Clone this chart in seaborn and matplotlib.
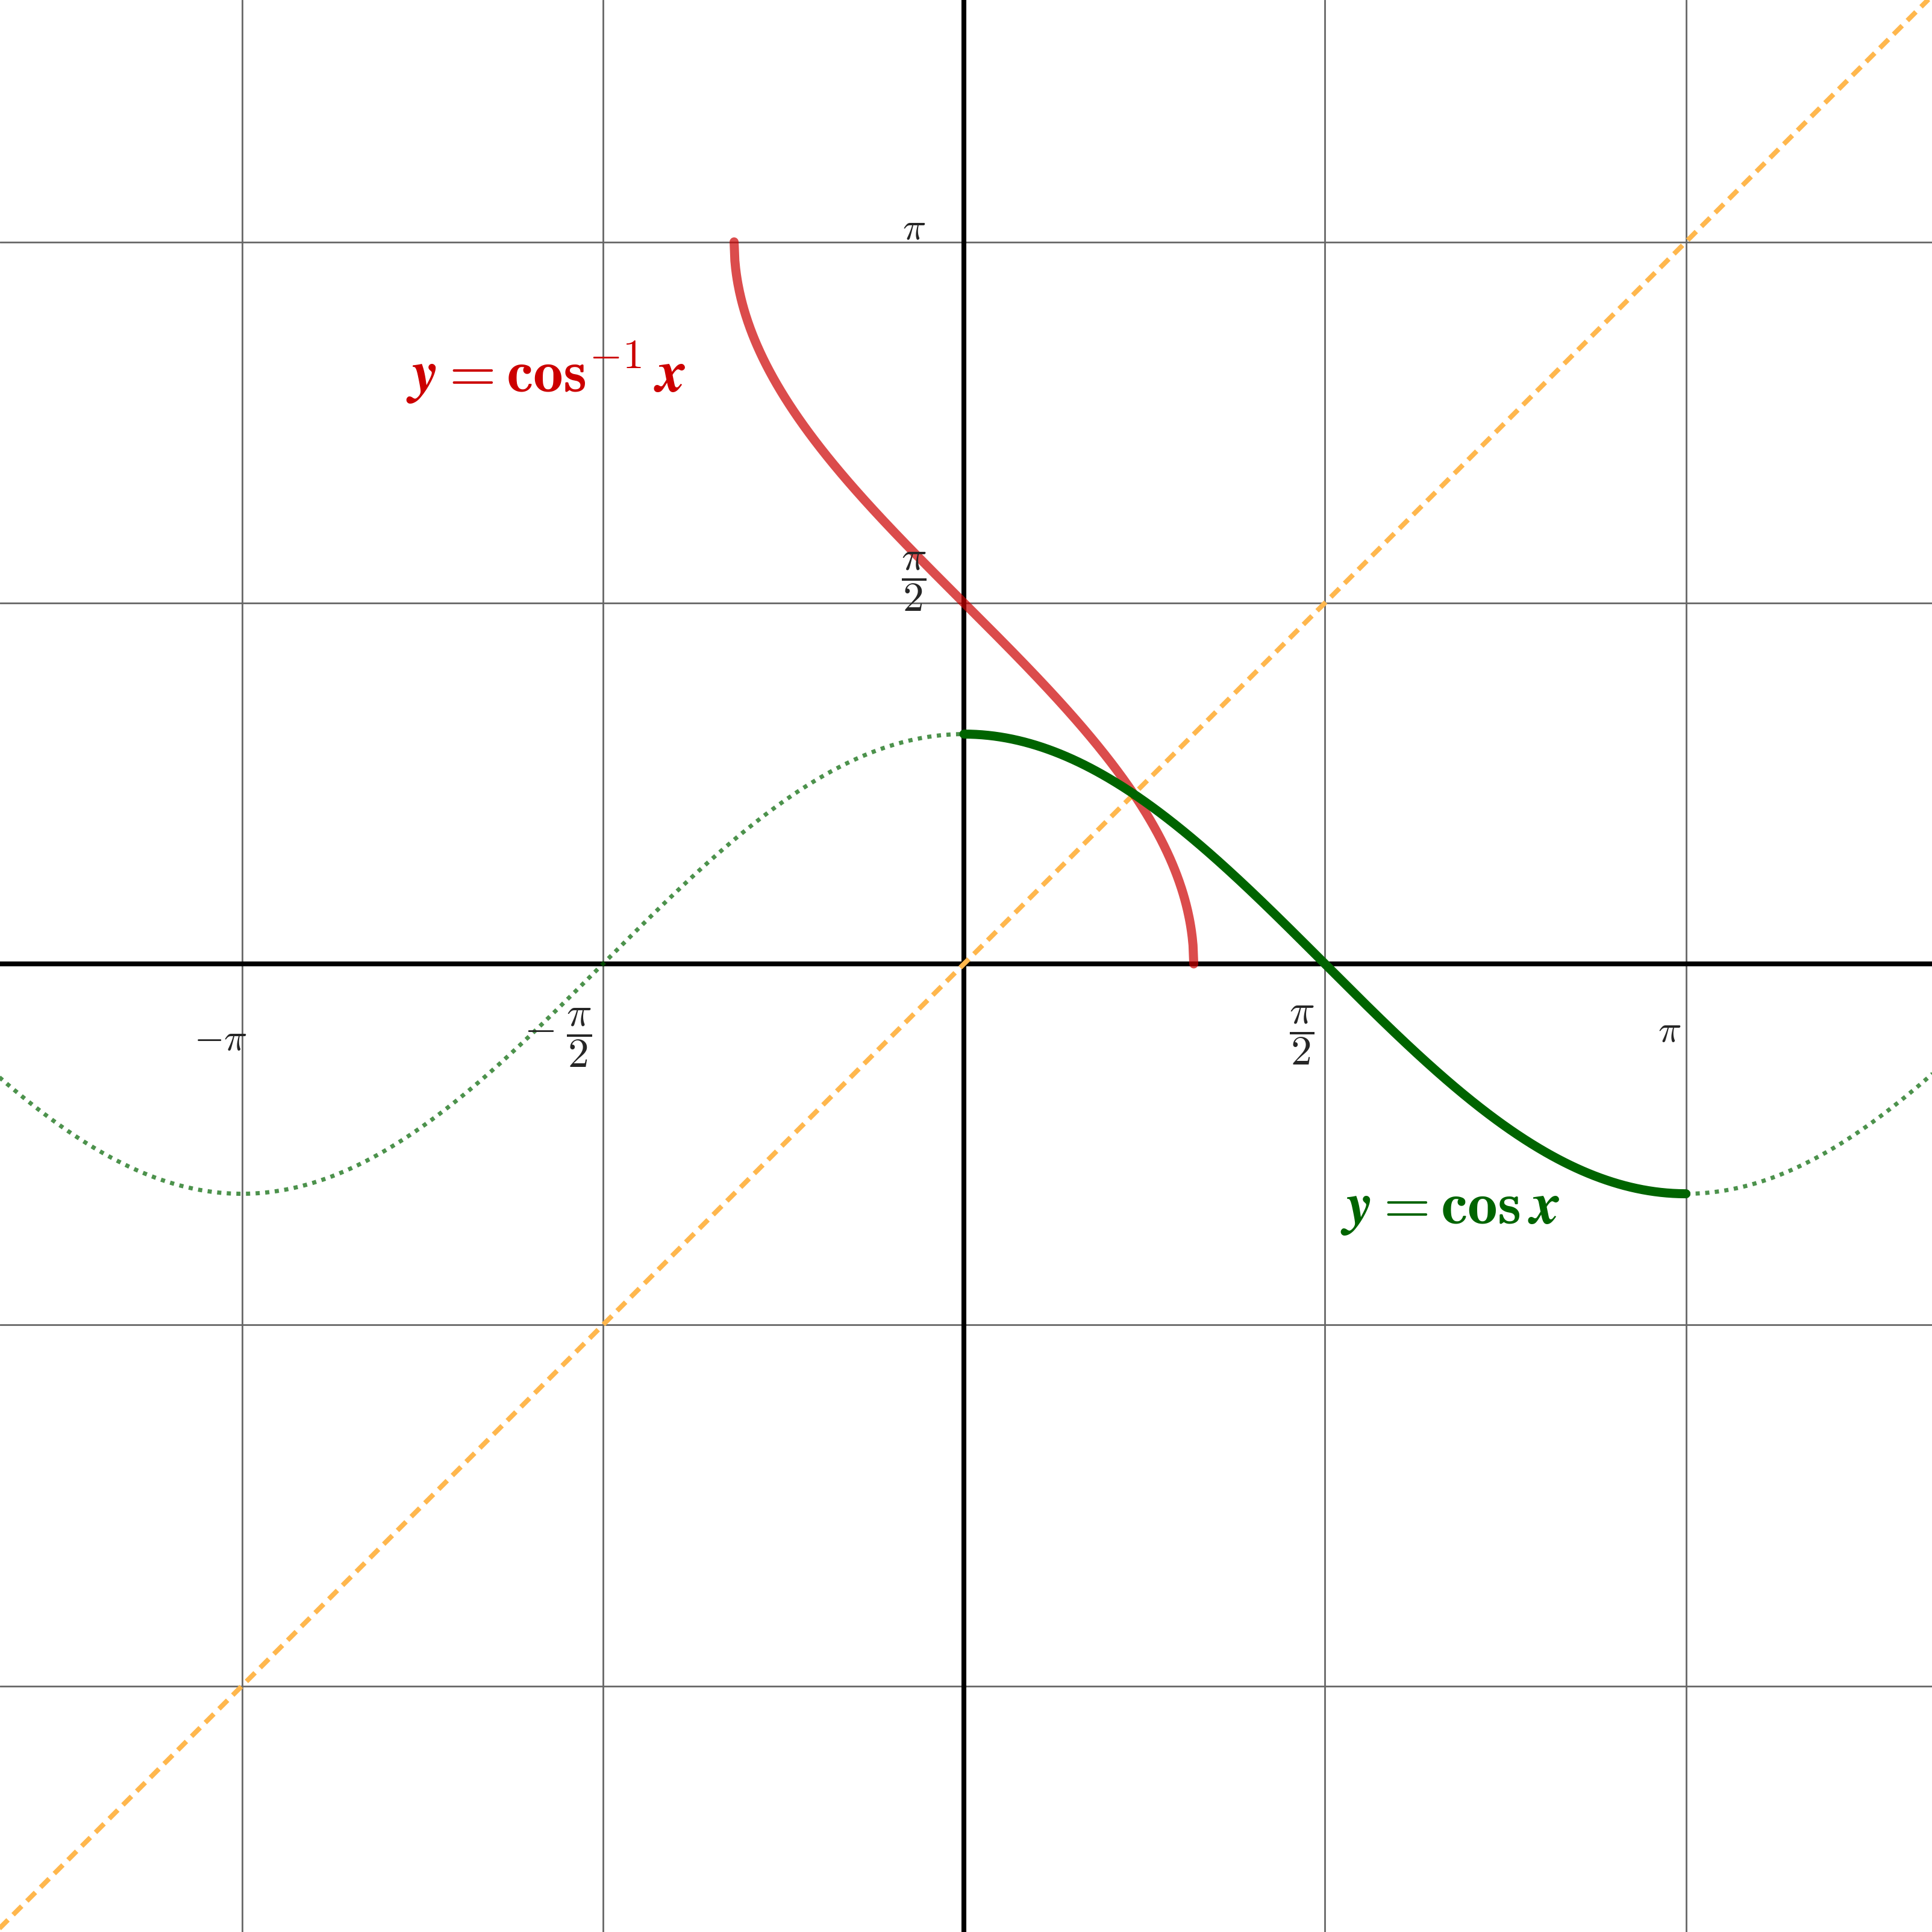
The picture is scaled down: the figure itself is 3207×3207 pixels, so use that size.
import numpy as np
import pandas as pd
import matplotlib
matplotlib.use("Agg")
import matplotlib.pyplot as plt
import seaborn as sns

# ✅ 데이터
cos_left = [-4.2, 0.0]          # dotted part of y = cos x
cos_main = [0.0, np.pi]         # solid part
cos_right = [np.pi, 4.3]        # dotted part
acos_domain = [-1.0, 1.0]       # y = arccos x
diag_range = [-4.3, 4.3]        # y = x

grid_vals = [-np.pi, -np.pi / 2, np.pi / 2, np.pi]

x_tick_labels = [r"$-\pi$", r"$-\;\dfrac{\pi}{2}$", r"$\dfrac{\pi}{2}$", r"$\pi$"]
x_label_pos = [(-3.235, -0.328), (-1.767, -0.32), (1.469, -0.31), (3.07, -0.29)]
y_tick_labels = [r"$\pi$", r"$\dfrac{\pi}{2}$"]
y_label_pos = [(-0.218, 3.20), (-0.218, 1.662)]

acos_text = r"$\boldsymbol{y} = \mathbf{cos}^{-1}\, \boldsymbol{x}$"
cos_text = r"$\boldsymbol{y} = \mathbf{cos}\, \boldsymbol{x}$"


def curve(f, lo, hi, n=600):
    x = np.linspace(lo, hi, n)
    return pd.DataFrame({"x": x, "y": f(x)})


sns.set_style("white")
plt.rcParams["mathtext.fontset"] = "cm"
plt.rcParams["font.family"] = ["DejaVu Sans"]

fig = plt.figure(figsize=(16.035, 16.035), dpi=200)
ax = fig.add_axes([0, 0, 1, 1])
ax.set_xlim(-4.194, 4.212)
ax.set_ylim(-4.212, 4.194)
for s in ax.spines.values():
    s.set_visible(False)
ax.set_xticks([])
ax.set_yticks([])

# 격자 + 축
for v in grid_vals:
    ax.axvline(v, color="#666666", lw=1.0, zorder=1)
    ax.axhline(v, color="#666666", lw=1.0, zorder=1)
ax.axhline(0, color="black", lw=2.9, zorder=2)
ax.axvline(0, color="black", lw=2.9, zorder=2)

# y = x
d = curve(lambda x: x, *diag_range)
sns.lineplot(data=d, x="x", y="y", ax=ax, color="#FFB74D", lw=2.9,
             zorder=3, sort=False)
ax.lines[-1].set_dashes([2.5, 1.5])
ax.lines[-1].set_dash_capstyle("butt")

# y = arccos x
d = curve(np.arccos, *acos_domain)
sns.lineplot(data=d, x="x", y="y", ax=ax, color="#cc0000", alpha=0.7, lw=5.4,
             zorder=4, sort=False)
ax.lines[-1].set_solid_capstyle("round")

# y = cos x
for rng in (cos_left, cos_right):
    d = curve(np.cos, *rng)
    sns.lineplot(data=d, x="x", y="y", ax=ax, color="#006400", alpha=0.7,
                 lw=2.5, zorder=5, sort=False)
    ax.lines[-1].set_dashes([1, 1.3])
d = curve(np.cos, *cos_main)
sns.lineplot(data=d, x="x", y="y", ax=ax, color="#006400", lw=5.4,
             zorder=6, sort=False)
ax.lines[-1].set_solid_capstyle("round")

# 라벨
for lab, (x, y) in zip(x_tick_labels, x_label_pos):
    fs = 25 if "frac" in lab else 23
    ax.text(x, y, lab, fontsize=fs, ha="center", va="center", zorder=7)
for lab, (x, y) in zip(y_tick_labels, y_label_pos):
    fs = 25 if "frac" in lab else 23
    ax.text(x, y, lab, fontsize=fs, ha="center", va="center", zorder=7)

ax.text(-1.82, 2.574, acos_text, fontsize=36, color="#cc0000",
        ha="center", va="center", zorder=7)
ax.text(2.115, -1.059, cos_text, fontsize=36, color="#006400",
        ha="center", va="center", zorder=7)

fig.savefig("out.png", dpi=200, facecolor="white")
